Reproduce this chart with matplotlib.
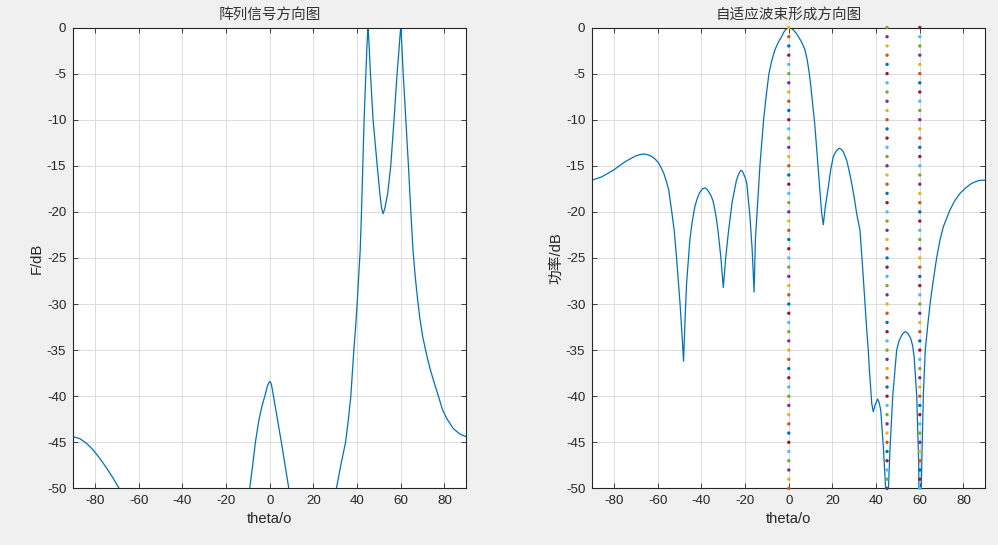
import numpy as np
import matplotlib
matplotlib.use("Agg")
import matplotlib.pyplot as plt

# 阵列信号方向图 (left panel)
theta_arr = [-90, -87, -84, -81, -78, -75, -72, -69, -67, np.nan,
             -10, -9.2, -7.8, -6.6, -5, -3.5, -2.3, -1.2, -0.6, 0, 0.4, 0.8, 1.7, 3.5, 5.3, 7, 8.7, 9.5, np.nan,
             29.5, 30.5, 32.5, 34.7, 36, 37.1, 38.5, 39.3, 40.0, 40.7, 41.4, 42.0, 42.6, 43.2, 44.0, 44.5, 44.8, 45.0,
             45.2, 45.5, 46.1, 47.3, 49.2, 50.4, 51.2, 51.9, 52.7, 54.0, 55.4, 56.9, 58.3, 59.3, 59.7, 60.0,
             60.25, 60.5, 61.1, 62.3, 63.5, 64.6, 65.6, 66.6, 67.6, 68.7, 70, 72, 73.5, 75, 77.5, 79, 81, 84, 87, 90]
F_arr = [-44.4, -44.6, -45.1, -45.8, -46.7, -47.7, -48.8, -50.0, -50.9, np.nan,
         -51.2, -50.0, -47.4, -45.0, -42.6, -41.0, -40.0, -39.0, -38.6, -38.4, -38.5, -38.8, -40.0, -42.5, -45.0, -47.5, -50.0, -51.2, np.nan,
         -51.5, -50.0, -47.5, -45.0, -42.5, -40.0, -35.0, -32.5, -30.0, -27.0, -24.2, -20.0, -15.0, -10.0, -5.0, -2.0, -0.7, 0.0,
         -0.8, -2.0, -5.0, -10.0, -15.0, -18.0, -19.6, -20.2, -19.6, -18.0, -15.0, -10.0, -5.0, -2.0, -0.7, 0.0,
         -0.9, -2.0, -5.0, -10.0, -15.0, -20.0, -24.2, -27.0, -29.3, -31.5, -33.5, -35.7, -37.1, -38.3, -40.2, -41.4, -42.4, -43.5, -44.1, -44.4]

# 自适应波束形成方向图 (right panel)
theta_bf = [-90, -85.6, -80.2, -74.9, -70.3, -68.4, -66.5, -64.6, -62.7, -61.1, -59.6, -58.5, -57.3, -56.2, -55.0,
            -53.6, -52.5, -51.4, -50.6, -49.8, -49.0, -48.2, -47.5, -46.8, -45.3, -44.2, -43.0, -42.0, -40.8,
            -39.5, -38.3, -37.3, -36.5, -35.5, -34.6, -33.3, -32.3, -31.1, -30.0,
            -28.9, -27.7, -26.0, -24.0, -23.0, -22.0, -21.2, -20.5, -19.8, -19.2, -17.8, -16.8, -15.9,
            -15.3, -14.2, -13.2, -11.5, -10.3, -9.1, -7.7, -6.3, -4.8, -3.3, -2.4, -1.5, -0.6, 0.3, 1.2, 2.2,
            3.3, 4.4, 5.9, 7.4, 8.5, 9.4, 10.2, 11.0, 11.9, 12.8, 13.6, 14.3, 15.0, 15.8, 16.7, 18.1, 19.2,
            20.4, 21.7, 23.1, 24.0, 25.0, 26.5, 27.6, 28.8, 30.0, 31.1, 32.6, 33.8, 34.9, 35.7, 36.4, 36.9,
            38.0, 38.7, 39.6, 40.7, 41.4, 42.1, 43.3, 44.4, 44.8, 45.0, 45.2, 45.6, 46.4, 47.6, 49.4, 50.5,
            51.7, 52.6, 53.5, 54.6, 55.8, 56.7, 57.4, 58.6, 59.5, 59.8, 60.0, 60.2, 60.9, 61.6, 62.5, 63.4,
            63.9, 65.0, 66.2, 67.7, 69.3, 70.8, 73.8, 76.0, 78.4, 81.0, 83.8, 87.0, 90]
P_bf = [-16.55, -16.2, -15.45, -14.55, -13.95, -13.8, -13.72, -13.8, -14.0, -14.3, -14.7, -15.2, -15.8, -16.6, -17.6,
        -20.0, -22.0, -25.0, -27.5, -30.0, -33.0, -36.2, -31.5, -27.7, -23.0, -21.0, -19.4, -18.6, -17.9,
        -17.5, -17.4, -17.6, -17.9, -18.3, -18.9, -20.5, -22.3, -25.0, -28.2,
        -25.0, -22.3, -19.0, -16.6, -15.9, -15.5, -15.6, -16.0, -16.4, -17.0, -20.5, -24.0, -28.7,
        -23.0, -18.7, -14.9, -9.9, -7.3, -5.0, -3.5, -2.4, -1.6, -1.0, -0.55, -0.25, -0.05, 0.0, -0.08, -0.3,
        -0.6, -1.0, -1.6, -2.4, -3.6, -5.0, -6.6, -8.5, -10.5, -13.3, -15.8, -18.0, -20.0, -21.4, -19.5, -17.3, -15.4,
        -14.0, -13.4, -13.1, -13.2, -13.5, -14.4, -15.5, -16.9, -18.5, -20.2, -22.0, -26.0, -30.0, -32.8, -35.0, -37.1,
        -40.8, -41.7, -40.9, -40.3, -40.7, -41.5, -45.5, -50.2, -56, -70, -56, -50.2, -45.5, -40.0, -35.0, -34.0,
        -33.4, -33.1, -33.0, -33.2, -33.7, -34.5, -35.7, -40.0, -47.3, -56, -70, -56, -47.3, -40.0, -35.0, -32.8,
        -31.7, -29.4, -27.4, -25.0, -23.0, -21.6, -19.8, -18.8, -18.0, -17.4, -16.9, -16.6, -16.55]

# signal directions marked by dotted lines
doa = [0, 45, 60]
mark_db = list(range(-50, 1))

matlab_colors = ['#0072BD', '#D95319', '#EDB120', '#7E2F8E', '#77AC30', '#4DBEEE', '#A2142F']

plt.rcParams['font.family'] = ['Liberation Sans', 'Noto Sans CJK SC', 'DejaVu Sans']
plt.rcParams['axes.unicode_minus'] = False

fig = plt.figure(figsize=(9.98, 5.45), dpi=100, facecolor='#f0f0f0')
ax1 = fig.add_axes([73.3 / 998, 1 - 488.4 / 545, 393 / 998, 460.9 / 545])
ax2 = fig.add_axes([592.3 / 998, 1 - 488.4 / 545, 393 / 998, 460.9 / 545])


def style_axes(ax):
    ax.set_xlim(-90, 90)
    ax.set_ylim(-50, 0)
    ax.set_xticks(range(-80, 81, 20))
    ax.set_yticks(range(-50, 1, 5))
    ax.grid(True, color='#dcdcdc', linewidth=0.7)
    ax.set_axisbelow(True)
    ax.tick_params(direction='in', length=3.5, width=0.6, colors='#262626',
                   labelsize=9.6, top=True, right=True, pad=5)
    for s in ax.spines.values():
        s.set_color('#262626')
        s.set_linewidth(0.8)


ax1.plot(theta_arr, F_arr, color='#0072BD', linewidth=0.9)
style_axes(ax1)
ax1.set_title('阵列信号方向图', fontsize=10.5, color='#333333', pad=6,
              family=['Noto Sans CJK SC'])
ax1.set_xlabel('theta/o', fontsize=10.6, color='#262626', labelpad=3)
ax1.set_ylabel('F/dB', fontsize=10.6, color='#262626', labelpad=2)

ax2.plot(theta_bf, P_bf, color='#0072BD', linewidth=0.9, zorder=2)
k = 1
for d in doa:
    cols = [matlab_colors[(k + i) % 7] for i in range(len(mark_db))]
    ax2.scatter([d] * len(mark_db), mark_db, c=cols, s=6, linewidths=0,
                zorder=3, clip_on=False)
    k += len(mark_db)
style_axes(ax2)
ax2.set_title('自适应波束形成方向图', fontsize=10.5, color='#333333', pad=6,
              family=['Noto Sans CJK SC'])
ax2.set_xlabel('theta/o', fontsize=10.6, color='#262626', labelpad=3)
ax2.set_ylabel('功率/dB', fontsize=10.6, color='#262626', labelpad=2)

fig.savefig('out.png', dpi=100, facecolor=fig.get_facecolor())
